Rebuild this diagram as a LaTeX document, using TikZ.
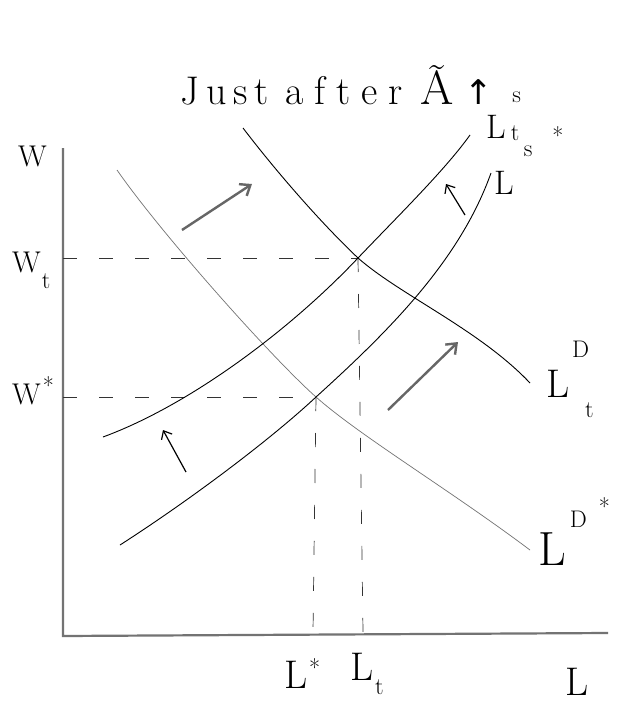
\documentclass[tikz,border=0pt]{standalone}
\usepackage{fontspec}
\newfontfamily\arrowfont{DejaVu Sans}
\usetikzlibrary{arrows.meta}
\newcommand\myrs[2]{\raisebox{#1}{\fontsize{24}{26}\selectfont #2}}
\begin{document}
\begin{tikzpicture}[x=1pt,y=-1pt,
  curve/.style={line width=0.9pt,black},
  lightcurve/.style={line width=0.7pt,black!55},
  axis/.style={line width=2.2pt,black!55},
  guide/.style={line width=0.7pt,black!80,dash pattern=on 14pt off 22pt},
  bigarrow/.style={line width=2.4pt,black!60,-{Straight Barb[length=9pt,width=14pt]}},
  smallarrow/.style={line width=1.2pt,black,-{Straight Barb[length=7pt,width=12pt]}},
  lbl/.style={inner sep=0pt,anchor=base west},
  f30/.style={font=\fontsize{30}{34}\selectfont},
  f40/.style={font=\fontsize{40}{44}\selectfont},
  f34/.style={font=\fontsize{34}{38}\selectfont},
  f48/.style={font=\fontsize{48}{52}\selectfont}]
\useasboundingbox (0,0) rectangle (629,707);
\fill[white] (0,0) rectangle (629,707);
% axes
\coordinate (top) at (63,148);
\coordinate (O) at (63,636);
\coordinate (xend) at (608,633);
\draw[axis] (top) -- (O) -- (xend);
% key points
\coordinate (Et) at (358,258);
\coordinate (Es) at (316,397);
\coordinate (yt) at (63,258);
\coordinate (ys) at (63,397);
\coordinate (xt) at (363,632);
\coordinate (xs) at (313,632);
% dashed guides
\draw[guide] (yt) -- (Et);
\draw[guide] (ys) -- (Es);
\draw[guide] (Et) -- (xt);
\draw[guide] (Es) -- (xs);
% demand curves
\draw[curve] (243,128) .. controls (275,170) and (320,222) .. (Et)
  .. controls (400,295) and (480,330) .. (530,383);
\draw[lightcurve] (117,170) .. controls (160,232) and (270,356) .. (Es)
  .. controls (360,436) and (450,490) .. (530,550);
% supply curves
\draw[curve] (103,437) .. controls (190,405) and (290,330) .. (Et)
  .. controls (398,216) and (445,170) .. (470,135);
\draw[curve] (120,545) .. controls (190,500) and (270,440) .. (Es)
  .. controls (390,330) and (460,260) .. (491,173);
% arrows
\coordinate (a1s) at (182,230); \coordinate (a1e) at (252,184);
\coordinate (a2s) at (388,410); \coordinate (a2e) at (458,342);
\coordinate (a3s) at (186,472); \coordinate (a3e) at (163,430);
\coordinate (a4s) at (465,215); \coordinate (a4e) at (446,184);
\draw[bigarrow] (a1s) -- (a1e);
\draw[bigarrow] (a2s) -- (a2e);
\draw[smallarrow] (a3s) -- (a3e);
\draw[smallarrow] (a4s) -- (a4e);
% title
\node[lbl,font=\fontsize{40}{44}\selectfont] (title) at (180,104)
  {J\kern7pt u\kern7pt s\kern7pt t\hspace{16pt}a\kern11pt f\kern11pt t\kern11pt e\kern11pt r\hspace{18pt}{\fontsize{48}{52}\selectfont Ã}\hspace{10pt}{\arrowfont\fontsize{34}{38}\selectfont ↑}};
% axis labels
\node[lbl,f30] (W) at (18,166) {W};
\node[lbl,f30] (Wt) at (12,272) {W\kern1pt\myrs{-16pt}{t}};
\node[lbl,f30] (Ws) at (12,404) {W\kern2pt\myrs{10pt}{*}};
\node[lbl,f40] (Ls) at (284,688) {L\kern2pt\myrs{12pt}{*}};
\node[lbl,f40] (Lt) at (350,680) {L\kern2pt\myrs{-14pt}{t}};
\node[lbl,f40] (L) at (565,695) {L};
% curve labels
\node[lbl,f40] (LDt) at (546,397) {L\kern3pt\myrs{40pt}{D}\kern-4pt\myrs{-20pt}{t}};
\node[lbl,f48] (LDs) at (538,565) {L\kern4pt\myrs{38pt}{D}\kern12pt\myrs{50pt}{*}};
\node[lbl,f34] (LSt) at (486,138) {L\kern5pt\myrs{-2pt}{t}\kern-7pt\myrs{36pt}{s}};
\node[lbl,f34] (LSs) at (494,194) {L\kern10pt\myrs{38pt}{s}\kern20pt\myrs{50pt}{*}};
\end{tikzpicture}
\end{document}
